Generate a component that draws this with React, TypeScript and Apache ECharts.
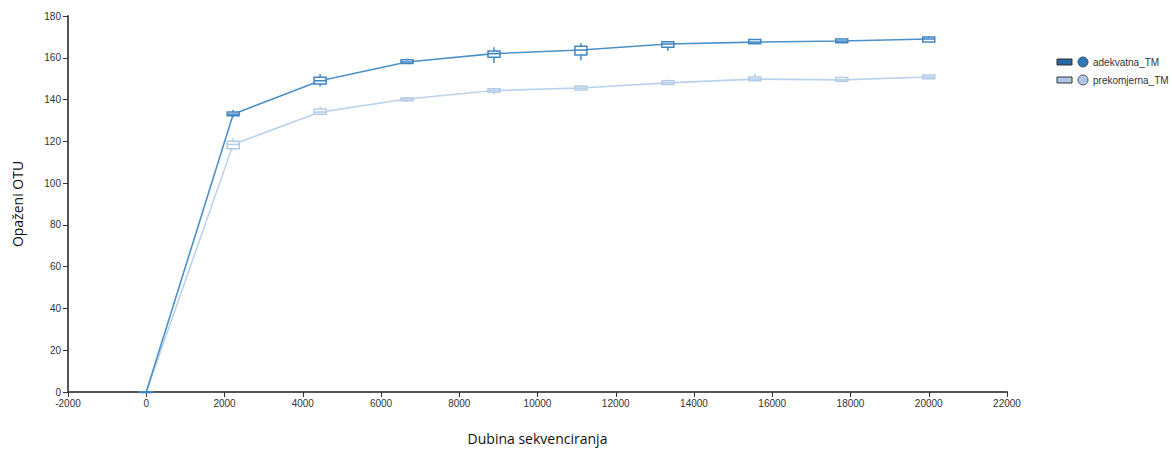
import React, { useEffect, useRef } from "react";
import * as echarts from "echarts";

const depths = [0, 2222, 4444, 6666, 8888, 11110, 13332, 15554, 17776, 20000];
const xTicks = { min: -2000, max: 22000, interval: 2000 };
const yTicks = { min: 0, max: 180, interval: 20 };

const seriesNames = ["adekvatna_TM", "prekomjerna_TM"];

// line (mean/median) values
const adekvatnaMid = [0, 133, 149, 158, 162, 163.7, 166.6, 167.5, 168, 169];
const prekomjernaMid = [0, 118.5, 134, 140.3, 144.3, 145.5, 148, 149.8, 149.4, 150.8];

// box values: [min, q1, q3, max]
const adekvatnaBox = [
  [0, 0, 0, 0],
  [131.5, 132.3, 134, 135],
  [146.2, 147.5, 150.7, 152.2],
  [157, 157.3, 159, 159.5],
  [157.5, 160.3, 163.2, 165],
  [158.8, 161.3, 165.5, 167],
  [163.4, 165, 167.7, 168],
  [166.5, 166.7, 168.8, 169],
  [167, 167.2, 169, 169.2],
  [167.3, 167.5, 170, 170.3],
];
const prekomjernaBox = [
  [0, 0, 0, 0.5],
  [116, 116.5, 120, 121.5],
  [132.5, 133, 135.5, 136.5],
  [139, 139.4, 140.8, 141.2],
  [142.5, 143.5, 145.2, 145.5],
  [144.3, 144.6, 146.5, 147],
  [147, 147.2, 149, 149.5],
  [149, 149, 150.8, 152.5],
  [148.5, 148.8, 150.5, 150.5],
  [150, 150, 151.8, 152],
];

const lineColors = ["#4c91c7", "#bcd2ec"];
const boxColors = ["#3f86c2", "#b3cbe9"];
const legendRectFill = ["#2667a4", "#aec7e8"];
const legendCircleFill = ["#2b7bba", "#aec7e8"];

function boxRender(color: string) {
  return (params: any, api: any) => {
    const x = api.value(0);
    const mn = api.coord([x, api.value(1)]);
    const q1 = api.coord([x, api.value(2)]);
    const md = api.coord([x, api.value(3)]);
    const q3 = api.coord([x, api.value(4)]);
    const mx = api.coord([x, api.value(5)]);
    const hw = 6;
    const cx = q1[0];
    const style = { stroke: color, lineWidth: 1.5, fill: "none" };
    return {
      type: "group",
      children: [
        { type: "line", shape: { x1: cx, y1: mx[1], x2: cx, y2: q3[1] }, style },
        { type: "line", shape: { x1: cx, y1: q1[1], x2: cx, y2: mn[1] }, style },
        {
          type: "rect",
          shape: { x: cx - hw, y: q3[1], width: hw * 2, height: Math.max(0.5, q1[1] - q3[1]) },
          style: { stroke: color, lineWidth: 1.5, fill: "rgba(255,255,255,0.85)" },
        },
        { type: "line", shape: { x1: cx - hw, y1: md[1], x2: cx + hw, y2: md[1] }, style },
      ],
    };
  };
}

function boxData(box: number[][], mid: number[]) {
  return depths.map((d, i) => [d, box[i][0], box[i][1], mid[i], box[i][2], box[i][3]]);
}

export default function App() {
  const ref = useRef<HTMLDivElement>(null);
  useEffect(() => {
    document.body.style.margin = "0";
    const chart = echarts.init(ref.current!, null, { renderer: "svg" });
    const font = "Liberation Sans, Arial, sans-serif";
    const legendItems: any[] = [];
    seriesNames.forEach((n, i) => {
      const y = 62 + i * 18;
      legendItems.push(
        { type: "rect", shape: { x: 1057, y: y - 3, width: 15, height: 6 }, style: { fill: legendRectFill[i], stroke: "#333", lineWidth: 1 } },
        { type: "circle", shape: { cx: 1083, cy: y, r: 5 }, style: { fill: legendCircleFill[i], stroke: "#333", lineWidth: 0.8 } },
        { type: "text", x: 1093, y: y, style: { text: n, fill: "#333", font: `10px ${font}`, verticalAlign: "middle" } }
      );
    });
    chart.setOption({
      animation: false,
      grid: { left: 68, right: 165, top: 16, bottom: 58, outerBoundsMode: "none", containLabel: false },
      xAxis: {
        type: "value",
        min: xTicks.min,
        max: xTicks.max,
        interval: xTicks.interval,
        name: "Dubina sekvenciranja",
        nameLocation: "middle",
        nameGap: 39,
        nameTextStyle: { fontSize: 14, color: "#111", fontFamily: "Open Sans, sans-serif" },
        splitLine: { show: false },
        axisLine: { onZero: false, lineStyle: { color: "#555", width: 2 } },
        axisTick: { length: 5, lineStyle: { color: "#333" } },
        axisLabel: { fontSize: 10, color: "#333", fontFamily: font, margin: 6, formatter: (v: number) => String(v) },
      },
      yAxis: {
        type: "value",
        min: yTicks.min,
        max: yTicks.max,
        interval: yTicks.interval,
        name: "Opaženi OTU",
        nameLocation: "middle",
        nameGap: 44,
        nameTextStyle: { fontSize: 14, color: "#111", fontFamily: "Open Sans, sans-serif" },
        splitLine: { show: false },
        axisLine: { show: true, onZero: false, lineStyle: { color: "#555", width: 2 } },
        axisTick: { show: true, length: 5, lineStyle: { color: "#333" } },
        axisLabel: { fontSize: 10, color: "#333", fontFamily: font, margin: 7, formatter: (v: number) => String(v) },
      },
      series: [
        {
          name: seriesNames[1],
          type: "line",
          data: depths.map((d, i) => [d, prekomjernaMid[i]]),
          symbol: "none",
          lineStyle: { color: lineColors[1], width: 1.6 },
          z: 2,
        },
        {
          name: seriesNames[1] + "_box",
          type: "custom",
          renderItem: boxRender(boxColors[1]),
          data: boxData(prekomjernaBox, prekomjernaMid),
          encode: { x: 0, y: [1, 2, 3, 4, 5] },
          z: 3,
        },
        {
          name: seriesNames[0],
          type: "line",
          data: depths.map((d, i) => [d, adekvatnaMid[i]]),
          symbol: "none",
          lineStyle: { color: lineColors[0], width: 1.6 },
          z: 4,
        },
        {
          name: seriesNames[0] + "_box",
          type: "custom",
          renderItem: boxRender(boxColors[0]),
          data: boxData(adekvatnaBox, adekvatnaMid),
          encode: { x: 0, y: [1, 2, 3, 4, 5] },
          z: 5,
        },
      ],
      graphic: legendItems,
    });
    return () => chart.dispose();
  }, []);
  return <div ref={ref} style={{ width: 1172, height: 450 }} />;
}
